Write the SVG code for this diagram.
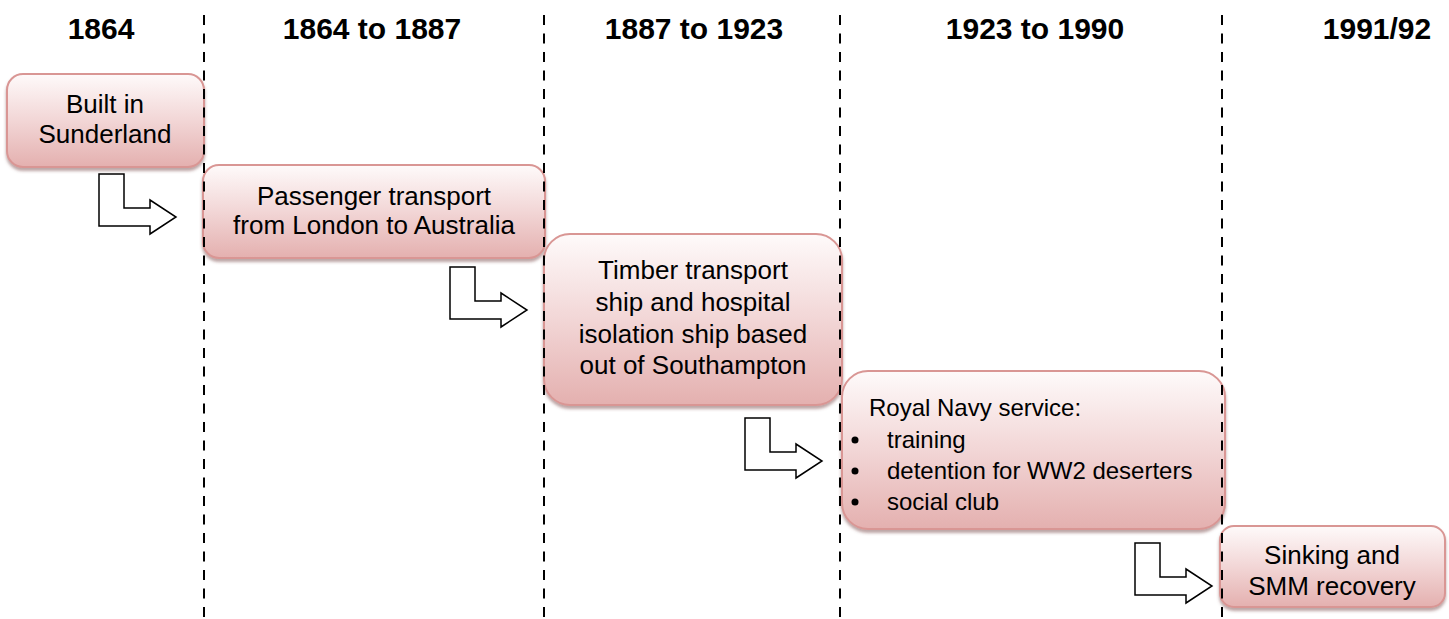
<svg xmlns="http://www.w3.org/2000/svg" width="1449" height="619" viewBox="0 0 1449 619">
<style>
.hdr{font-family:"Liberation Sans",Arial,sans-serif;font-weight:bold;font-size:30px;fill:#000;text-anchor:middle}
.txt{font-family:"Liberation Sans",Arial,sans-serif;font-size:26px;fill:#000;text-anchor:middle}
.lst{font-family:"Liberation Sans",Arial,sans-serif;font-size:24px;fill:#000}
.box{fill:url(#g);stroke:#d99694;stroke-width:2;filter:url(#sh)}
.arr{fill:#fff;stroke:#000;stroke-width:1.5;stroke-linejoin:miter}
.div{stroke:#000;stroke-width:2;stroke-dasharray:10 8.5;fill:none}
</style>
<defs>
<linearGradient id="g" x1="0" y1="0" x2="0" y2="1">
<stop offset="0" stop-color="#fefafa"/>
<stop offset="0.5" stop-color="#f2d6d6"/>
<stop offset="1" stop-color="#e4b0af"/>
</linearGradient>
<filter id="sh" x="-10%" y="-10%" width="120%" height="130%">
<feDropShadow dx="0" dy="3" stdDeviation="1.5" flood-color="#7a4a4a" flood-opacity="0.5"/>
</filter>
<polygon id="bent" points="0,0 25,0 25,34 51,34 51,26 77,43 51,60 51,52 0,52"/>
</defs>
<g id="headers">
<text class="hdr" x="101" y="39">1864</text>
<text class="hdr" x="372" y="39">1864 to 1887</text>
<text class="hdr" x="694" y="39">1887 to 1923</text>
<text class="hdr" x="1035" y="39">1923 to 1990</text>
<text class="hdr" x="1377" y="39">1991/92</text>
</g>
<g id="node-built">
<rect class="box" x="7" y="74" width="197" height="93" rx="16"/>
<text class="txt" x="105" y="113">Built in</text>
<text class="txt" x="105" y="143">Sunderland</text>
</g>
<g id="node-passenger">
<rect class="box" x="203" y="165" width="342" height="93" rx="16"/>
<text class="txt" x="374" y="205">Passenger transport</text>
<text class="txt" x="374" y="234">from London to Australia</text>
</g>
<g id="node-timber">
<rect class="box" x="544" y="234" width="298" height="171" rx="26"/>
<text class="txt" x="693" y="279">Timber transport</text>
<text class="txt" x="693" y="311">ship and hospital</text>
<text class="txt" x="693" y="343">isolation ship based</text>
<text class="txt" x="693" y="374">out of Southampton</text>
</g>
<g id="node-navy">
<rect class="box" x="842" y="371" width="383" height="158" rx="26"/>
<text class="lst" x="869" y="416">Royal Navy service:</text>
<circle cx="855" cy="440" r="3.5"/>
<text class="lst" x="887" y="448">training</text>
<circle cx="855" cy="471" r="3.5"/>
<text class="lst" x="887" y="479">detention for WW2 deserters</text>
<circle cx="855" cy="502" r="3.5"/>
<text class="lst" x="887" y="510">social club</text>
</g>
<g id="node-sinking">
<rect class="box" x="1220" y="526" width="225" height="81" rx="14"/>
<text class="txt" x="1332" y="564">Sinking and</text>
<text class="txt" x="1332" y="595">SMM recovery</text>
</g>
<g id="connectors">
<use href="#bent" class="arr" x="99" y="174"/>
<use href="#bent" class="arr" x="450" y="267"/>
<use href="#bent" class="arr" x="745" y="418"/>
<use href="#bent" class="arr" x="1135" y="543"/>
</g>
<g id="dividers">
<line class="div" x1="204" y1="15" x2="204" y2="619"/>
<line class="div" x1="544" y1="15" x2="544" y2="619"/>
<line class="div" x1="840" y1="15" x2="840" y2="619"/>
<line class="div" x1="1222" y1="15" x2="1222" y2="619"/>
</g>
</svg>
